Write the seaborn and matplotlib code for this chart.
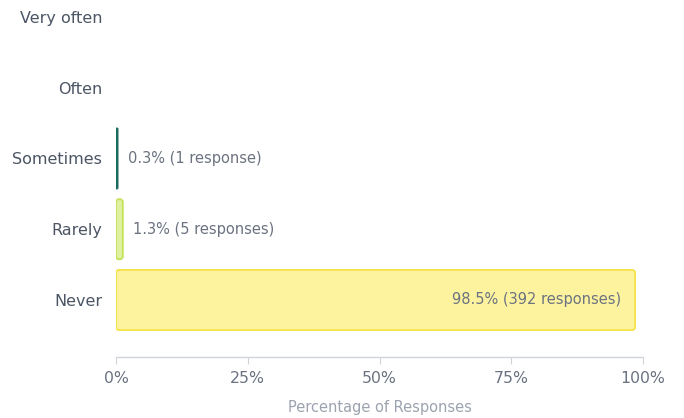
import pandas as pd
import matplotlib.pyplot as plt
import seaborn as sns
from matplotlib.patches import FancyBboxPatch

categories = ["Very often", "Often", "Sometimes", "Rarely", "Never"]
percentages = [0.0, 0.0, 0.3, 1.3, 98.5]
responses = [0, 0, 1, 5, 392]
fill_colors = ["#2a9d8f", "#2a9d8f", "#2a9d8f", "#dff0a0", "#fdf39f"]
edge_colors = ["#1a6b5e", "#1a6b5e", "#1a6b5e", "#c5e35a", "#f5e34a"]
x_ticks = [0, 25, 50, 75, 100]
x_tick_labels = ["0%", "25%", "50%", "75%", "100%"]

df = pd.DataFrame({"answer": categories, "pct": percentages, "n": responses})

sns.set_style("white")
plt.rcParams['font.family'] = ['DejaVu Sans']

fig = plt.figure(figsize=(6.84, 4.18), dpi=100)
ax = fig.add_axes([116 / 684, 61 / 418, 527 / 684, 357 / 418])

sns.barplot(data=df, x="pct", y="answer", order=categories, hue="answer",
            palette=dict(zip(categories, fill_colors)), legend=False,
            width=0.85, ax=ax)

# swap plain bars for slightly rounded ones with coloured outlines
x_per_px = 100 / 527
y_per_px = 1 / 70.75
for patch, cat in zip(list(ax.patches), categories):
    i = categories.index(cat)
    x, y = patch.get_x(), patch.get_y()
    w, h = patch.get_width(), patch.get_height()
    patch.remove()
    if w <= 0:
        continue
    r = min(3 * x_per_px, w / 2)
    rounded = FancyBboxPatch((x, y), w, h,
                             boxstyle=f"round,pad=0,rounding_size={r}",
                             mutation_aspect=(3 * y_per_px) / (3 * x_per_px),
                             facecolor=fill_colors[i], edgecolor=edge_colors[i],
                             linewidth=1.3)
    ax.add_patch(rounded)

for i, row in df.iterrows():
    if row["n"] == 0:
        continue
    word = "response" if row["n"] == 1 else "responses"
    label = f"{row['pct']:.1f}% ({row['n']} {word})"
    if row["pct"] > 50:
        ax.text(row["pct"] - 2.6, i, label, ha="right", va="center",
                fontsize=10.5, color="#6b7280")
    else:
        ax.text(row["pct"] + 2.0, i, label, ha="left", va="center",
                fontsize=10.5, color="#6b7280")

ax.set_xlim(0, 100)
ax.set_ylim(4.806, -0.24)
ax.set_xticks(x_ticks)
ax.set_xticklabels(x_tick_labels)
ax.set_xlabel("Percentage of Responses", fontsize=10.5, color="#9ca3af", labelpad=10)
ax.set_ylabel("")

for side in ["top", "right", "left"]:
    ax.spines[side].set_visible(False)
ax.spines["bottom"].set_color("#d1d5db")
ax.spines["bottom"].set_linewidth(1)
ax.tick_params(axis="x", length=5, color="#d1d5db", labelsize=11.3,
               labelcolor="#6b7280", pad=5, bottom=True)
ax.tick_params(axis="y", length=0, labelsize=11.5, labelcolor="#4b5563", pad=10)

fig.savefig("out.png", dpi=100)
